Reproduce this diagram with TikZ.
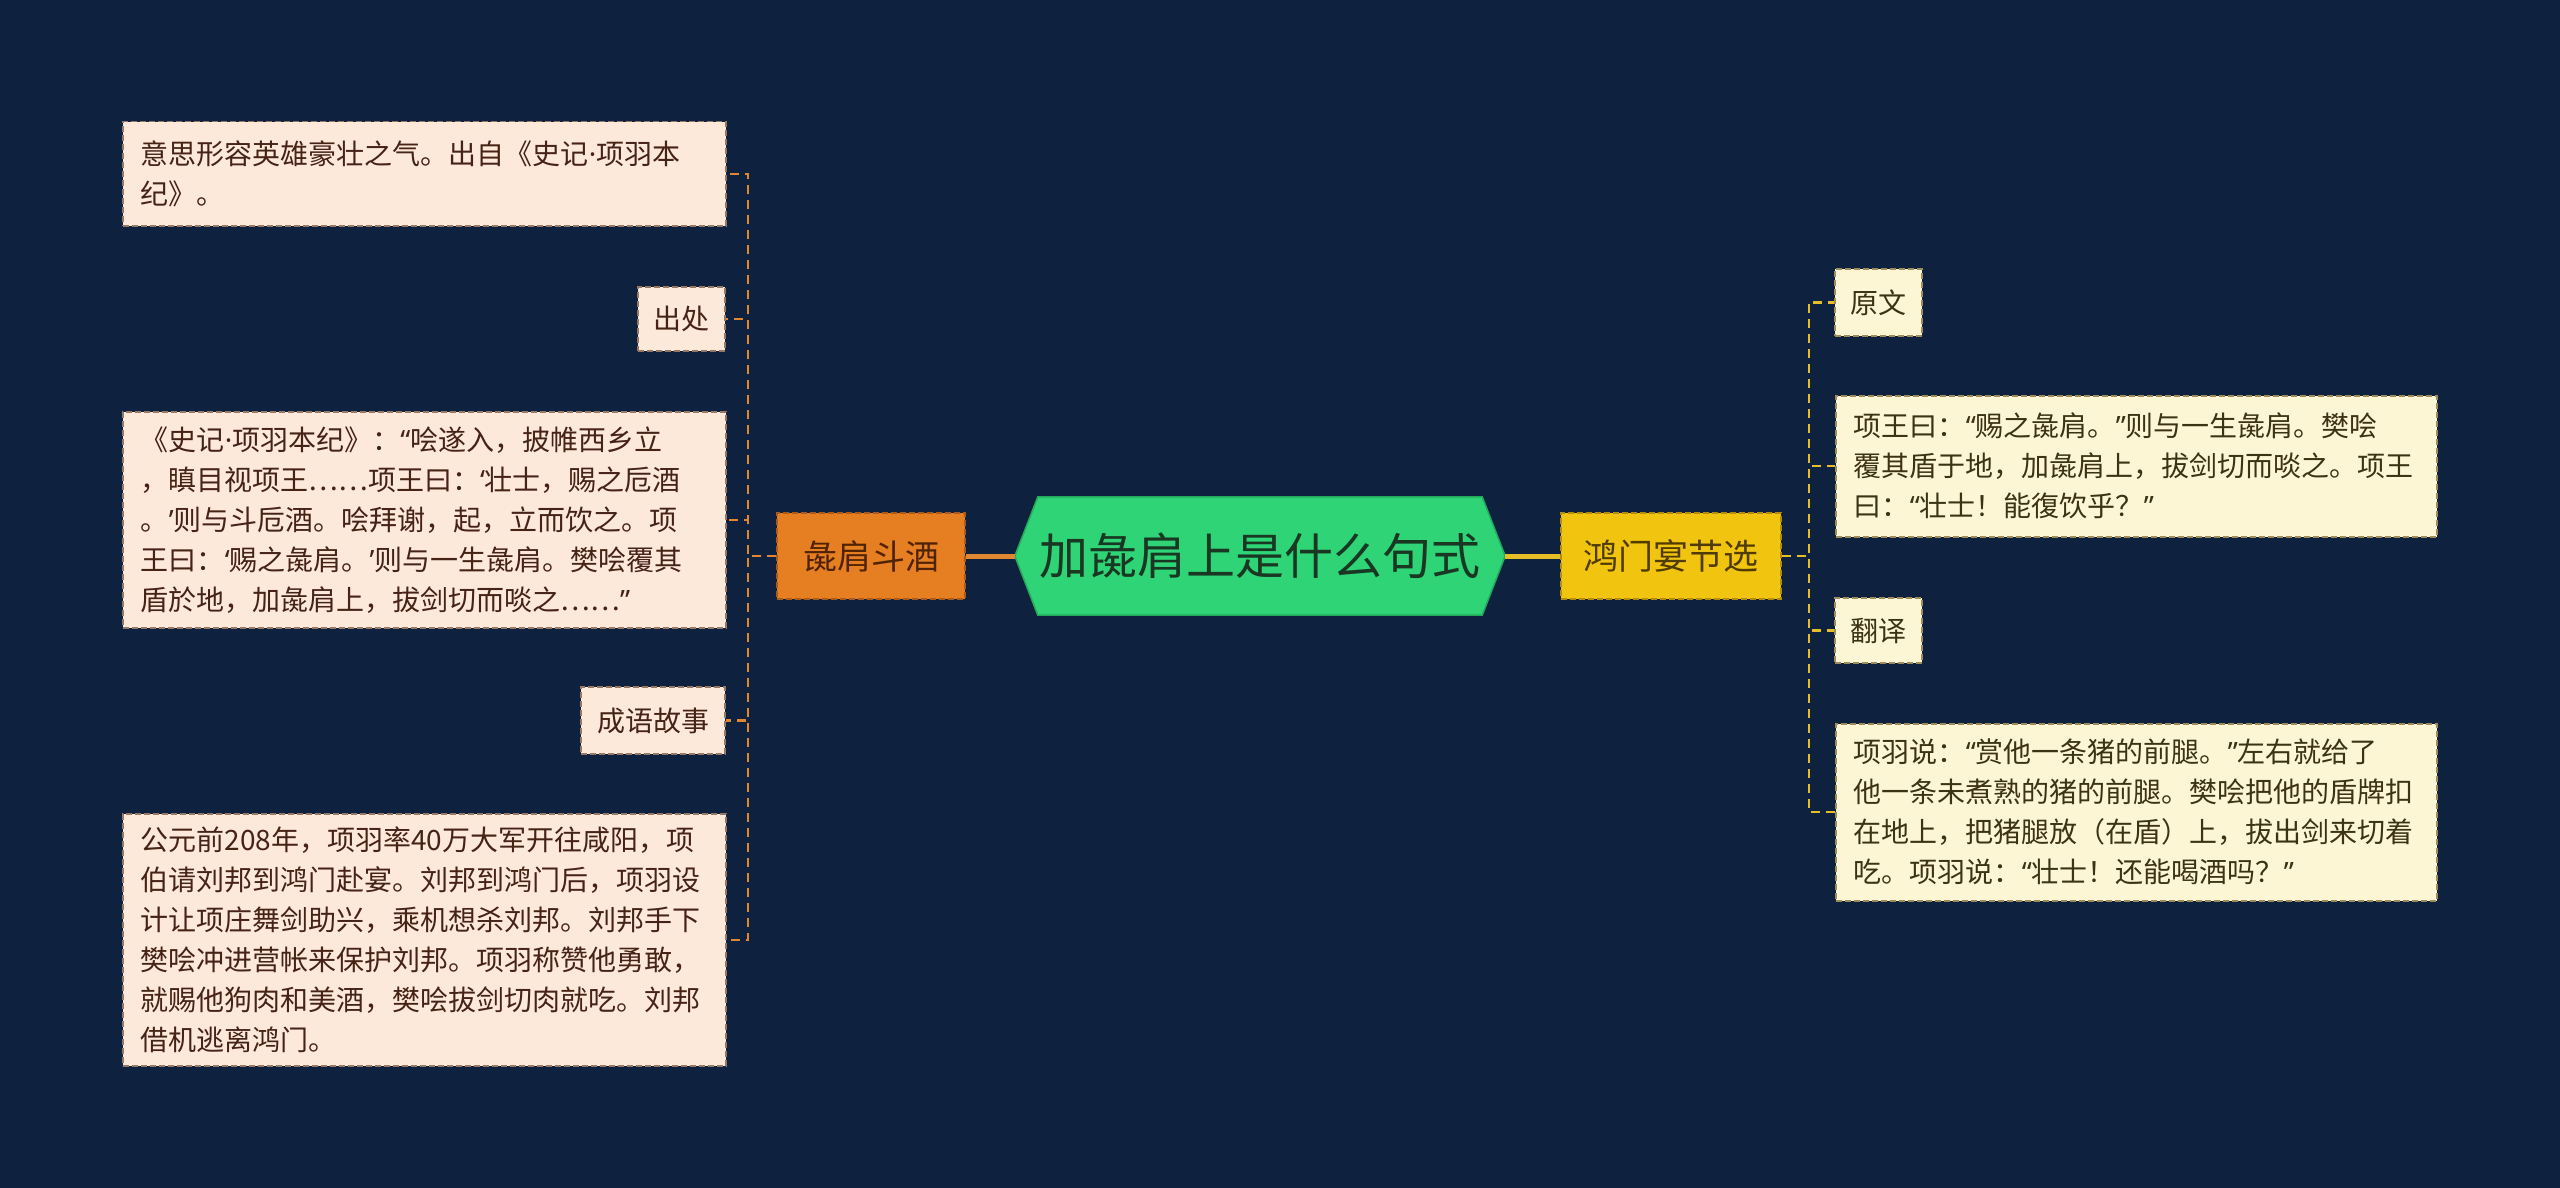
\documentclass[tikz,border=0pt]{standalone}
\usepackage{fontspec}
\setmainfont{Noto Sans CJK SC}
\newfontfamily\qfont{Noto Sans}
\newcommand{\qlo}{{\qfont “}}
\newcommand{\qrc}{{\qfont ”}}
\newcommand{\slo}{{\qfont ‘}}
\newcommand{\src}{{\qfont ’}}
\newcommand{\mdot}{{\qfont ·}}
\definecolor{bg}{RGB}{14,34,64}
\definecolor{lfill}{RGB}{252,233,218}
\definecolor{ltext}{RGB}{70,35,20}
\definecolor{lborder}{RGB}{150,120,100}
\definecolor{rfill}{RGB}{253,246,212}
\definecolor{rtext}{RGB}{60,50,20}
\definecolor{rborder}{RGB}{160,140,90}
\definecolor{ofill}{RGB}{230,126,34}
\definecolor{otext}{RGB}{80,35,5}
\definecolor{oborder}{RGB}{170,90,25}
\definecolor{yfill}{RGB}{241,196,15}
\definecolor{ytext}{RGB}{80,60,0}
\definecolor{yborder}{RGB}{180,140,10}
\definecolor{gfill}{RGB}{46,212,117}
\definecolor{gtext}{RGB}{25,55,35}
\definecolor{gborder}{RGB}{35,170,90}
\definecolor{lline}{RGB}{225,135,50}
\definecolor{rline}{RGB}{230,190,40}
\begin{document}
\begin{tikzpicture}[x=1pt,y=-1pt,
  boxbase/.style={inner ysep=0pt, inner xsep=18pt, line width=1.5pt, dash pattern=on 6pt off 3pt, align=left, font=\fontsize{28}{40}\selectfont},
  lbox/.style={boxbase, fill=lfill, draw=lborder, text=ltext, anchor=north west},
  rbox/.style={boxbase, fill=rfill, draw=rborder, text=rtext, anchor=north west},
  lconn/.style={draw=lline, line width=2.2pt, dash pattern=on 9pt off 6pt},
  rconn/.style={draw=rline, line width=2.2pt, dash pattern=on 9pt off 6pt},
  mainlink/.style={line width=5pt}
]
\fill[bg] (0,0) rectangle (2560,1188);
\useasboundingbox (0,0) rectangle (2560,1188);

% central hexagon
\node[minimum width=490pt, minimum height=118pt, inner sep=0pt] (c) at (1260,556) {};
\filldraw[fill=gfill, draw=gborder, line width=1.5pt]
  (c.west) -- ([xshift=23pt]c.north west) -- ([xshift=-23pt]c.north east) -- (c.east)
  -- ([xshift=-23pt]c.south east) -- ([xshift=23pt]c.south west) -- cycle;
\node[text=gtext, font=\fontsize{49}{56}\selectfont] (ct) at (c.center) {加彘肩上是什么句式};

% level-1 nodes
\node[boxbase, fill=ofill, draw=oborder, text=otext, font=\fontsize{34}{40}\selectfont, inner xsep=0pt, minimum width=188pt, minimum height=86pt, align=center] (L) at (871,556) {彘肩斗酒};
\node[boxbase, fill=yfill, draw=yborder, text=ytext, font=\fontsize{35}{40}\selectfont, inner xsep=0pt, minimum width=220pt, minimum height=86pt, align=center] (R) at (1671,556) {鸿门宴节选};

% left children
\node[lbox, text width=567pt, minimum height=104pt] (l1) at (122,121) {意思形容英雄豪壮之气。出自《史记\mdot 项羽本\\纪》。};
\node[lbox, anchor=center, inner xsep=0pt, align=center, minimum width=87pt, minimum height=64pt] (l2) at (681.5,319) {出处};
\node[lbox, text width=567pt, minimum height=216pt] (l3) at (122,411) {《史记\mdot 项羽本纪》：\qlo 哙遂入，披帷西乡立\\，瞋目视项王……项王曰：\slo 壮士，赐之卮酒\\。\src 则与斗卮酒。哙拜谢，起，立而饮之。项\\王曰：\slo 赐之彘肩。\src 则与一生彘肩。樊哙覆其\\盾於地，加彘肩上，拔剑切而啖之……\qrc};
\node[lbox, anchor=center, inner xsep=0pt, align=center, minimum width=144pt, minimum height=67pt] (l4) at (653,720.5) {成语故事};
\node[lbox, text width=567pt, minimum height=252pt] (l5) at (122,813) {公元前208年，项羽率40万大军开往咸阳，项\\伯请刘邦到鸿门赴宴。刘邦到鸿门后，项羽设\\计让项庄舞剑助兴，乘机想杀刘邦。刘邦手下\\樊哙冲进营帐来保护刘邦。项羽称赞他勇敢，\\就赐他狗肉和美酒，樊哙拔剑切肉就吃。刘邦\\借机逃离鸿门。};

% right children
\node[rbox, anchor=center, inner xsep=0pt, align=center, minimum width=87pt, minimum height=67pt] (r1) at (1878.5,302.5) {原文};
\node[rbox, text width=565pt, minimum height=141pt] (r2) at (1835,395) {项王曰：\qlo 赐之彘肩。\qrc 则与一生彘肩。樊哙\\覆其盾于地，加彘肩上，拔剑切而啖之。项王\\曰：\qlo 壮士！能復饮乎？\qrc};
\node[rbox, anchor=center, inner xsep=0pt, align=center, minimum width=87pt, minimum height=65pt] (r3) at (1878.5,630.5) {翻译};
\node[rbox, text width=565pt, minimum height=177pt] (r4) at (1835,723) {项羽说：\qlo 赏他一条猪的前腿。\qrc 左右就给了\\他一条未煮熟的猪的前腿。樊哙把他的盾牌扣\\在地上，把猪腿放（在盾）上，拔出剑来切着\\吃。项羽说：\qlo 壮士！还能喝酒吗？\qrc};

% main links
\draw[mainlink, draw=lline] (c.west) -- (L.east);
\draw[mainlink, draw=rline] (c.east) -- (R.west);

% trunks
\coordinate (lt) at (748,556);
\coordinate (rt) at (1809,556);
\foreach \n in {l1,l2,l3,l4,l5} \draw[lconn] (L.west) -- (lt) |- (\n.east);
\foreach \n in {r1,r2,r3,r4} \draw[rconn] (R.east) -- (rt) |- (\n.west);
\end{tikzpicture}
\end{document}
